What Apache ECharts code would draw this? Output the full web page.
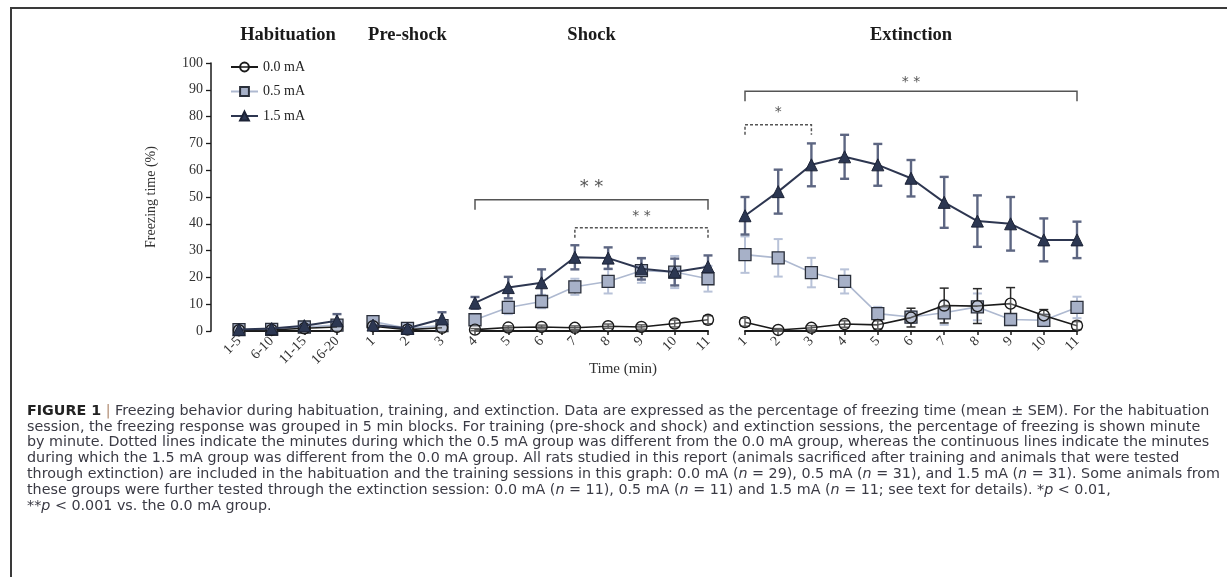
<!DOCTYPE html>
<html><head><meta charset="utf-8">
<script src="https://cdn.jsdelivr.net/npm/echarts/dist/echarts.min.js"></script>
<style>html,body{margin:0;padding:0;background:#fff}#c{width:1227px;height:577px}</style>
</head><body><div id="c"></div>
<script>
// ---- categories ----
const habCats = ['1-5', '6-10', '11-15', '16-20'];
const preCats = ['1', '2', '3'];
const shockCats = ['4', '5', '6', '7', '8', '9', '10', '11'];
const extCats = ['1', '2', '3', '4', '5', '6', '7', '8', '9', '10', '11'];
const groupNames = ['0.0 mA', '0.5 mA', '1.5 mA'];
const sessionTitles = ['Habituation', 'Pre-shock', 'Shock', 'Extinction'];
const yMin = 0, yMax = 100, yInterval = 10;

// ---- means (%) ----
const hab00 = [0.3, 0.4, 1.0, 1.5];
const hab05 = [0.5, 0.6, 1.5, 2.2];
const hab15 = [0.6, 0.9, 2.0, 3.8];
const pre00 = [1.8, 0.5, 1.2];
const pre05 = [3.5, 1.0, 2.0];
const pre15 = [2.2, 1.0, 4.5];
const shock00 = [0.5, 1.3, 1.5, 1.2, 1.8, 1.5, 2.8, 4.2];
const shock05 = [4.2, 8.8, 11.0, 16.5, 18.5, 22.5, 22.0, 19.5];
const shock15 = [10.5, 16.2, 18.0, 27.5, 27.2, 23.2, 22.0, 24.0];
const ext00 = [3.3, 0.4, 1.2, 2.6, 2.3, 5.0, 9.5, 9.3, 10.2, 5.8, 2.0];
const ext05 = [28.5, 27.3, 21.8, 18.5, 6.5, 5.2, 6.8, 9.0, 4.3, 4.0, 8.8];
const ext15 = [43.0, 52.0, 62.0, 65.0, 62.0, 57.0, 48.0, 41.0, 40.0, 34.0, 34.0];

// ---- SEM ----
const habSem00 = [0.3, 0.3, 0.5, 1.0];
const habSem05 = [0.5, 0.5, 0.8, 1.2];
const habSem15 = [0.6, 0.7, 1.0, 2.5];
const preSem00 = [0.8, 0.4, 0.8];
const preSem05 = [1.5, 0.6, 1.2];
const preSem15 = [1.0, 0.8, 2.5];
const shockSem00 = [0.4, 0.6, 0.7, 0.7, 0.8, 0.8, 1.3, 1.5];
const shockSem05 = [1.5, 2.5, 2.5, 3.0, 4.5, 4.5, 6.0, 4.8];
const shockSem15 = [2.2, 4.0, 5.0, 4.5, 4.0, 4.0, 5.0, 4.2];
const extSem00 = [1.5, 0.5, 0.8, 1.2, 1.5, 3.5, 6.5, 6.5, 6.0, 2.2, 1.5];
const extSem05 = [6.8, 7.0, 5.5, 4.5, 2.5, 2.2, 4.5, 5.0, 2.0, 2.2, 4.0];
const extSem15 = [7.0, 8.2, 8.0, 8.2, 7.8, 6.8, 9.5, 9.6, 10.0, 8.0, 6.8];

// ---- significance brackets: [startIndex, endIndex, level] ----
const shockBrackets = [[0, 7, 49], [3, 7, 38.5]];
const shockBracketLabels = ['**', '**'];
const shockBracketDashed = [false, true];
const extBrackets = [[0, 10, 89.5], [0, 2, 77]];
const extBracketLabels = ['**', '*'];
const extBracketDashed = [false, true];

// ---- caption ----
const captionLines = [
  '{b|FIGURE 1} {s||} Freezing behavior during habituation, training, and extinction. Data are expressed as the percentage of freezing time (mean \u00b1 SEM). For the habituation',
  'session, the freezing response was grouped in 5 min blocks. For training (pre-shock and shock) and extinction sessions, the percentage of freezing is shown minute',
  'by minute. Dotted lines indicate the minutes during which the 0.5 mA group was different from the 0.0 mA group, whereas the continuous lines indicate the minutes',
  'during which the 1.5 mA group was different from the 0.0 mA group. All rats studied in this report (animals sacrificed after training and animals that were tested',
  'through extinction) are included in the habituation and the training sessions in this graph: 0.0 mA ({i|n} = 29), 0.5 mA ({i|n} = 31), and 1.5 mA ({i|n} = 31). Some animals from',
  'these groups were further tested through the extinction session: 0.0 mA ({i|n} = 11), 0.5 mA ({i|n} = 11) and 1.5 mA ({i|n} = 11; see text for details). *{i|p} < 0.01,',
  '**{i|p} < 0.001 vs. the 0.0 mA group.'
];

// ================= build =================
const SERIF = 'Liberation Serif';
const boxes = [[239, 98], [373, 69], [475, 233], [745, 332]];
const gTop = 63, gHeight = 268;
const segCats = [habCats, preCats, shockCats, extCats];
const segMeans = [[hab00, hab05, hab15], [pre00, pre05, pre15], [shock00, shock05, shock15], [ext00, ext05, ext15]];
const segSems = [[habSem00, habSem05, habSem15], [preSem00, preSem05, preSem15], [shockSem00, shockSem05, shockSem15], [extSem00, extSem05, extSem15]];

const gStyles = [
  { symbol: 'circle', size: 11, fill: 'rgba(255,255,255,0.25)', border: '#1a1a1a', bw: 1.4, line: '#1a1a1a', lw: 1.6, err: '#2a2a2a', ew: 1.5, z: 3 },
  { symbol: 'rect', size: 12, fill: '#a7b1c8', border: '#2a2f3a', bw: 1.3, line: '#aeb9d0', lw: 1.6, err: '#b8c2d8', ew: 2, z: 2 },
  { symbol: 'triangle', size: 12, fill: '#2c3752', border: '#1c2336', bw: 1, line: '#2d3650', lw: 2, err: '#5d6682', ew: 2.4, z: 4 }
];

function errRender(color, width, cap) {
  return function (params, api) {
    const x = api.value(0);
    const lo = api.coord([x, api.value(1)]);
    const hi = api.coord([x, api.value(2)]);
    const st = { stroke: color, lineWidth: width };
    return { type: 'group', children: [
      { type: 'line', shape: { x1: lo[0], y1: lo[1], x2: hi[0], y2: hi[1] }, style: st },
      { type: 'line', shape: { x1: hi[0] - cap, y1: hi[1], x2: hi[0] + cap, y2: hi[1] }, style: st },
      { type: 'line', shape: { x1: lo[0] - cap, y1: lo[1], x2: lo[0] + cap, y2: lo[1] }, style: st }
    ] };
  };
}

function bracketRender(labels, dashed, sizes, gaps) {
  return function (params, api) {
    const i = params.dataIndex;
    const a = api.coord([api.value(0), api.value(2)]);
    const b = api.coord([api.value(1), api.value(2)]);
    const drop = 10;
    return { type: 'group', children: [
      { type: 'polyline', shape: { points: [[a[0], a[1] + drop], [a[0], a[1]], [b[0], b[1]], [b[0], b[1] + drop]] },
        style: { stroke: '#555', lineWidth: 1.5, fill: 'none', lineDash: dashed[i] ? [3, 2] : null } },
      { type: 'text', x: (a[0] + b[0]) / 2, y: a[1] - gaps[i],
        style: { text: labels[i].split('').join(' '), fill: '#555', fontFamily: 'DejaVu Sans', fontSize: sizes[i], textAlign: 'center', textVerticalAlign: 'middle' } }
    ] };
  };
}

const grids = [], xAxes = [], yAxes = [], series = [];
boxes.forEach((b, i) => {
  grids.push({ left: b[0], top: gTop, width: b[1], height: gHeight, containLabel: false, outerBoundsMode: 'none' });
  xAxes.push({
    type: 'category', gridIndex: i, data: segCats[i], boundaryGap: false,
    axisLine: { show: true, lineStyle: { color: '#1a1a1a', width: 2 } },
    axisTick: { show: true, length: 4, lineStyle: { color: '#1a1a1a', width: 1.5 } },
    axisLabel: { rotate: 45, interval: 0, margin: 8, fontFamily: SERIF, fontSize: 14, color: '#333' },
    splitLine: { show: false }
  });
  yAxes.push(i === 0 ? {
    type: 'value', gridIndex: i, min: yMin, max: yMax, interval: yInterval, offset: 28,
    axisLine: { show: true, lineStyle: { color: '#1a1a1a', width: 1.5 } },
    axisTick: { show: true, length: 5, lineStyle: { color: '#1a1a1a', width: 1.3 } },
    axisLabel: { fontFamily: SERIF, fontSize: 14, color: '#333', margin: 8 },
    splitLine: { show: false },
    name: 'Freezing time (%)', nameLocation: 'middle', nameGap: 53, nameRotate: 90,
    nameTextStyle: { fontFamily: SERIF, fontSize: 14, color: '#333' }
  } : { type: 'value', gridIndex: i, min: yMin, max: yMax, interval: yInterval, show: false, splitLine: { show: false } });
});

// line series first (legend icons come from them)
[1, 0, 2].forEach(g => {
  const s = gStyles[g];
  boxes.forEach((b, i) => {
    series.push({
      type: 'line', name: groupNames[g], xAxisIndex: i, yAxisIndex: i, data: segMeans[i][g],
      symbol: s.symbol, symbolSize: s.size, showAllSymbol: true, clip: false, z: s.z,
      lineStyle: { color: s.line, width: s.lw },
      itemStyle: { color: s.fill, borderColor: s.border, borderWidth: s.bw, opacity: 1 },
      emphasis: { disabled: true }, animation: false
    });
  });
});
[1, 0, 2].forEach(g => {
  const s = gStyles[g];
  boxes.forEach((b, i) => {
    series.push({
      type: 'custom', xAxisIndex: i, yAxisIndex: i, z: 1, clip: false, animation: false,
      renderItem: errRender(s.err, s.ew, 4.5),
      encode: { x: 0, y: [1, 2] },
      data: segMeans[i][g].map((m, k) => [k, Math.max(0, m - segSems[i][g][k]), m + segSems[i][g][k]])
    });
  });
});
series.push({
  type: 'custom', xAxisIndex: 2, yAxisIndex: 2, z: 5, clip: false, animation: false,
  renderItem: bracketRender(shockBracketLabels, shockBracketDashed, [18, 14], [12, 11]),
  encode: { x: [0, 1], y: 2 }, data: shockBrackets
});
series.push({
  type: 'custom', xAxisIndex: 3, yAxisIndex: 3, z: 5, clip: false, animation: false,
  renderItem: bracketRender(extBracketLabels, extBracketDashed, [14, 14], [9, 12]),
  encode: { x: [0, 1], y: 2 }, data: extBrackets
});

const graphics = [
  { type: 'rect', shape: { x: 11, y: 8, width: 1400, height: 800 }, style: { fill: 'none', stroke: '#3a3a3a', lineWidth: 2 }, silent: true },
  { type: 'text', x: 623, y: 369, style: { text: 'Time (min)', fontFamily: SERIF, fontSize: 15, fill: '#333', textAlign: 'center', textVerticalAlign: 'middle' } }
];
boxes.forEach((b, i) => {
  graphics.push({ type: 'text', x: b[0] + b[1] / 2, y: 35,
    style: { text: sessionTitles[i], fontFamily: SERIF, fontWeight: 'bold', fontSize: 18.5, fill: '#1a1a1a', textAlign: 'center', textVerticalAlign: 'middle' } });
});
const capFont = 'DejaVu Sans', capSize = 14.3, capColor = '#3a3a44';
captionLines.forEach((t, k) => {
  graphics.push({ type: 'text', x: 27, y: 411 + k * 15.8,
    style: { text: t, fontFamily: capFont, fontSize: capSize, fill: capColor, textAlign: 'left', textVerticalAlign: 'middle',
      rich: {
        b: { fontFamily: capFont, fontSize: capSize, fontWeight: 'bold', fill: '#222' },
        s: { fontFamily: capFont, fontSize: capSize, fill: '#b08a70' },
        i: { fontFamily: capFont, fontSize: capSize, fontStyle: 'italic', fill: capColor }
      } } });
});

const chart = echarts.init(document.getElementById('c'));
chart.setOption({
  backgroundColor: '#fff',
  animation: false,
  grid: grids, xAxis: xAxes, yAxis: yAxes, series: series,
  legend: {
    orient: 'vertical', left: 225, top: 55, itemWidth: 27, itemHeight: 11, itemGap: 10.5,
    textStyle: { fontFamily: SERIF, fontSize: 14, color: '#222' }, data: groupNames,
    selectedMode: false
  },
  graphic: graphics
});
</script></body></html>
